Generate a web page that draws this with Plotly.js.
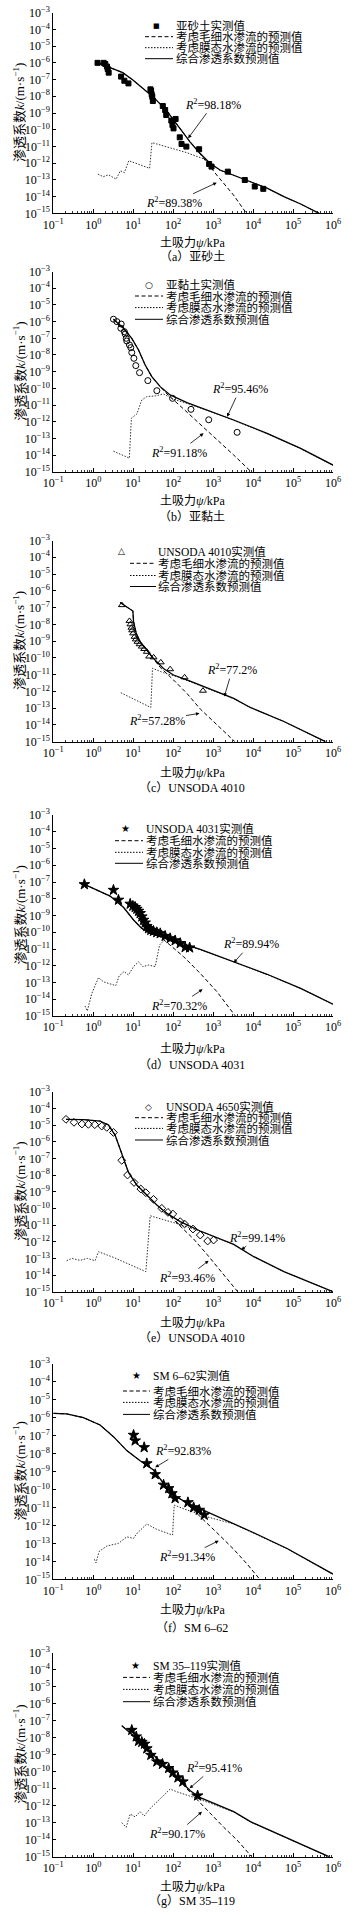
<!DOCTYPE html>
<html><head><meta charset="utf-8">
<script src="https://cdn.plot.ly/plotly-3.0.1.min.js"></script>
<style>html,body{margin:0;padding:0;background:#fff}</style>
</head><body><div id="chart" style="width:358px;height:1915px"></div>
<script>
// ---------- data ----------
// (a) 亚砂土
const aMeasX = [1.28,1.82,2.0,2.2,2.3,2.43,4.97,6.0,7.6,27,28,29,30,31,55,63,67,90,96,102,115,146,162,214,446,795,912,2330,6200,11000,18000];
const aMeasY = [1.0e-6,1.0e-6,8.5e-7,6.0e-7,4.3e-7,2.6e-7,1.5e-7,8.5e-8,5.9e-8,2.6e-8,2.2e-8,1.3e-8,9.5e-9,5.2e-9,2.6e-9,1.5e-9,7.6e-10,3.5e-10,1.9e-10,1.2e-10,4.4e-10,3.5e-11,1.4e-11,9.8e-12,6.8e-12,8.9e-13,6.2e-13,3.1e-13,9.8e-14,4.0e-14,2.9e-14];
const aTotX = [1.41,5.47,9.8,17.5,31,67,146,261,466,834,1490,3220,8500,22400,59000,155000,450000];
const aTotY = [9.3e-7,2.6e-7,9.3e-8,3.0e-8,9.5e-9,1.5e-9,1.2e-10,1.95e-11,3.9e-12,9.8e-13,3.9e-13,1.95e-13,7.8e-14,3.2e-14,1.0e-14,3.6e-15,1.0e-15];
const aCapX = [1.41,5.47,9.8,17.5,31,67,146,261,466,1230,3220,6800];
const aCapY = [9.3e-7,2.6e-7,9.3e-8,3.0e-8,9.5e-9,1.5e-9,1.2e-10,1.95e-11,3.7e-12,1.95e-13,1.26e-14,1.0e-15];
const aFilmX = [1.31,1.78,2.43,3.72,4.78,6.0,7.74,25.7,29.5,67,214,690,1490,3220,8500,22400,59000,155000,450000];
const aFilmY = [2.2e-13,1.55e-13,2.0e-13,1.1e-13,3.5e-13,2.7e-13,1.4e-12,4.9e-13,1.7e-11,9.8e-12,4.3e-12,1.55e-12,3.6e-13,1.9e-13,7.7e-14,3.15e-14,1.0e-14,3.6e-15,1.0e-15];
// (b) 亚黏土
const bMeasX = [3.2,3.9,4.9,5.0,6.0,6.3,6.7,6.9,8.05,8.7,9.2,10.4,11.6,14.4,23.2,39,96.6,279,775,3990];
const bMeasY = [1.4e-6,1.0e-6,4.0e-7,7.2e-7,2.5e-7,1.8e-7,1.0e-7,6.9e-8,4.0e-8,2.75e-8,1.4e-8,6.3e-9,2.3e-9,8.7e-10,2.9e-10,7.2e-11,2.5e-11,5.5e-12,1.3e-12,2.3e-13];
const bTotX = [3.2,5.7,9.2,13.6,19.9,29.2,47.4,84,221,701,3270,22400,155000,1e6];
const bTotY = [1.4e-6,4.0e-7,1.0e-7,2.0e-8,2.5e-9,5.0e-10,1.26e-10,4.0e-11,1.4e-11,5.0e-12,1.26e-12,2.0e-13,2.5e-14,2.5e-15];
const bCapX = [3.2,5.7,9.2,13.6,19.9,29.2,47.4,70,182,476,1250,3270,8900];
const bCapY = [1.4e-6,4.0e-7,1.0e-7,2.0e-8,2.5e-9,5.0e-10,1.26e-10,4.6e-11,5.75e-12,7.2e-13,8.7e-14,1.0e-14,1.0e-15];
const bFilmX = [3.2,4.7,8.0,9.0,12.3,16.4,21.9,35.5,57,102,221,701,3270,22400,155000,1e6];
const bFilmY = [1.7e-14,1.15e-14,6.5e-15,1.6e-12,2.9e-12,2.0e-11,3.2e-11,3.5e-11,4.6e-11,2.2e-11,1.26e-11,4.8e-12,1.2e-12,1.9e-13,2.4e-14,2.4e-15];
// (c) UNSODA 4010
const cMeasX = [5.2,8.05,8.5,9.0,9.4,9.95,10.8,11.6,12.8,14.4,16.4,18.8,21.9,25,32.4,49,84,193,557];
const cMeasY = [1.4e-7,1.6e-8,1.0e-8,6.3e-9,4.4e-9,2.9e-9,1.8e-9,1.26e-9,9.1e-10,6.5e-10,4.7e-10,3.4e-10,2.3e-10,1.2e-10,1.07e-10,5.4e-11,2.1e-11,6.9e-12,1.1e-12];
const cTotX = [4.7,9.8,10.2,11.9,14.9,21.9,32.2,57,102,221,701,3270,8500,59000,650000];
const cTotY = [2.0e-7,6.2e-8,1.45e-8,2.9e-9,9.3e-10,2.95e-10,9.3e-11,2.3e-11,9.5e-12,4.8e-12,1.66e-12,3.8e-13,1.1e-13,1.6e-14,1.0e-15];
const cCapX = [4.7,9.8,10.2,11.9,14.9,21.9,32.2,47,102,221,476,1250,3500];
const cCapY = [2.0e-7,6.2e-8,1.45e-8,2.9e-9,9.3e-10,2.95e-10,9.3e-11,2.75e-11,4.8e-12,7.6e-13,8.9e-14,1.0e-14,1.0e-15];
const cFilmX = [4.9,27.6,30.4,57,124,325,701,3270,8500,59000,650000];
const cFilmY = [8.3e-13,1.1e-13,2.4e-11,1.3e-11,7.6e-12,3.2e-12,1.6e-12,3.7e-13,1.1e-13,1.6e-14,1.0e-15];
// (d) UNSODA 4031
const dMeasX = [0.6,3.2,4.27,8.4,9.8,11.2,12.3,13.6,14.9,16.4,18.1,19.9,21.9,24.2,27.6,32.2,39,47.4,63,84,112,150,200,258];
const dMeasY = [7.2e-8,3.3e-8,8.5e-9,4.9e-9,3.7e-9,3.1e-9,2.45e-9,1.86e-9,1.35e-9,8.5e-10,5.4e-10,3.7e-10,2.3e-10,1.7e-10,1.35e-10,1.17e-10,9.8e-11,8.5e-11,5.9e-11,4.3e-11,3.2e-11,2.2e-11,1.26e-11,1.2e-11];
const dTotX = [0.6,2.64,5.7,10.2,16.4,26.6,47.4,102,476,3270,22400,155000,1e6];
const dTotY = [7.2e-8,1.45e-8,3.1e-9,5.4e-10,1.7e-10,8.5e-11,5.4e-11,3.2e-11,9.5e-12,1.74e-12,3.1e-13,4.5e-14,5.0e-15];
const dCapX = [0.6,2.64,5.7,10.2,16.4,26.6,47.4,70,182,476,1250,3600];
const dCapY = [7.2e-8,1.45e-8,3.1e-9,5.4e-10,1.7e-10,8.5e-11,5.4e-11,2.4e-11,3.5e-12,3.5e-13,2.8e-14,1.0e-15];
const dFilmX = [0.62,0.71,0.92,1.35,1.8,2.9,3.66,4.44,5.9,7.6,10.2,13.6,17.4,24.2,35.5,45.7,63,102,476,3270,22400,155000,1e6];
const dFilmY = [4.0e-15,2.0e-15,2.2e-14,1.95e-13,1.1e-13,8.1e-14,6.5e-14,2.45e-13,4.5e-13,2.8e-13,8.9e-13,1.74e-12,8.9e-13,1.1e-12,8.9e-13,1.74e-11,3.8e-11,2.75e-11,9.0e-12,1.7e-12,3.0e-13,4.4e-14,4.9e-15];
// (e) UNSODA 4650
const eMeasX = [0.208,0.33,0.52,0.755,1.09,1.63,2.18,3.2,5.17,7.2,10.5,15.5,20.7,32.2,52,74,98,150,193,313,476,730,1030];
const eMeasY = [2.2e-5,1.45e-5,1.15e-5,1.1e-5,1.05e-5,8.7e-6,7.2e-6,3.6e-6,7.6e-8,1.0e-8,3.6e-9,1.45e-9,8.7e-10,3.5e-10,1.0e-10,5.75e-11,4.6e-11,1.6e-11,1.15e-11,5.75e-12,2.5e-12,1.1e-12,1.26e-12];
const eTotX = [0.208,0.566,1.48,2.4,3.52,5.17,7.6,12.3,21.9,39,70,150,476,1250,3270,10400,59000,1e6];
const eTotY = [2.2e-5,2.1e-5,1.74e-5,1.0e-5,2.5e-6,2.0e-7,1.45e-8,2.5e-9,6.3e-10,1.6e-10,5.0e-11,1.6e-11,4.4e-12,1.74e-12,6.9e-13,1.26e-13,1.6e-14,1.0e-15];
const eCapX = [0.208,0.566,1.48,2.4,3.52,5.17,7.6,12.3,21.9,39,70,150,325,701,1510,4120];
const eCapY = [2.2e-5,2.1e-5,1.74e-5,1.0e-5,2.5e-6,2.0e-7,1.45e-8,2.5e-9,6.3e-10,1.6e-10,5.0e-11,9.1e-12,1.45e-12,1.74e-13,1.74e-14,1.0e-15];
const eFilmX = [0.216,0.288,0.467,0.713,1.11,1.35,3.2,8.4,20.7,26.6,47.4,102,221,476,1250,3270,10400,59000,1e6];
const eFilmY = [7.2e-14,1.0e-13,7.6e-14,1.0e-13,7.2e-14,2.5e-13,1.15e-13,4.0e-14,1.6e-14,3.6e-11,2.3e-11,1.4e-11,7.9e-12,4.2e-12,1.7e-12,6.8e-13,1.25e-13,1.6e-14,1.0e-15];
// (f) SM 6-62
const fMeasX = [10.2,11.2,18.8,21.9,35.5,57.5,77,93,112,234,325,449,600];
const fMeasY = [1.07e-7,5.2e-8,2.2e-8,2.8e-9,6.9e-10,1.8e-10,1.15e-10,6.0e-11,3.2e-11,1.9e-11,1.0e-11,7.2e-12,3.8e-12];
const fTotX = [0.1,0.216,0.566,1.48,3.2,6.9,14.9,32.2,57.5,102,221,701,3270,10400,71000,1e6];
const fTotY = [1.74e-6,1.6e-6,1.0e-6,3.9e-7,8.7e-8,1.45e-8,4.0e-9,1.2e-9,2.2e-10,4.9e-11,1.8e-11,5.75e-12,1.3e-12,3.9e-13,5.2e-14,1.95e-15];
const fCapX = [0.1,0.216,0.566,1.48,3.2,6.9,14.9,32.2,57.5,102,221,476,1250,3270,7080,14700];
const fCapY = [1.74e-6,1.6e-6,1.0e-6,3.9e-7,8.7e-8,1.45e-8,4.0e-9,1.2e-9,2.2e-10,4.9e-11,1.74e-11,3.0e-12,3.9e-13,4.7e-14,7.1e-15,1.0e-15];
const fFilmX = [1.07,1.17,1.4,2.18,4.27,6.9,10.2,12.8,21.9,39,96.6,106,221,701,3270,10400,71000,1e6];
const fFilmY = [1.3e-14,8.3e-15,3.5e-14,7.1e-14,1.0e-13,2.3e-13,1.9e-13,3.9e-13,1.2e-12,6.0e-13,2.9e-13,1.35e-11,7.2e-12,3.0e-12,1.2e-12,3.7e-13,5.0e-14,1.9e-15];
// (g) SM 35-119
const gMeasX = [9.2,11.9,13.6,16.4,19.2,21.9,27.6,39,54,77,98,132,175,409];
const gMeasY = [2.8e-8,1.15e-8,6.3e-9,5.5e-9,4.3e-9,2.3e-9,9.5e-10,3.9e-10,2.8e-10,1.6e-10,8.7e-11,4.5e-11,2.6e-11,3.9e-12];
const gTotX = [5.18,12.3,26.6,70,150,268,476,1250,3270,8570,59000,790000];
const gTotY = [5.1e-8,9.1e-9,1.5e-9,1.6e-10,2.6e-11,7.6e-12,2.95e-12,1.1e-12,4.5e-13,1.15e-13,1.5e-14,1.0e-15];
const gCapX = [5.18,12.3,26.6,70,150,325,701,1840,3980,8900];
const gCapY = [5.1e-8,9.1e-9,1.5e-9,1.6e-10,2.6e-11,3.7e-12,5.6e-13,5.4e-14,9.5e-15,1.1e-15];
const gFilmX = [5.18,6.65,8.4,11.2,14.9,18.8,26.6,43,63,84,124,221,476,1250,3270,8570,59000,790000];
const gFilmY = [1.0e-13,5.4e-14,3.2e-13,2.2e-13,4.5e-13,2.45e-13,6.9e-13,1.95e-12,4.7e-12,9.5e-12,6.6e-12,4.3e-12,2.3e-12,1.0e-12,4.3e-13,1.1e-13,1.45e-14,1.0e-15];

// texts
const measuredNames = ['亚砂土实测值','亚黏土实测值','UNSODA 4010实测值','UNSODA 4031实测值','UNSODA 4650实测值','SM 6–62实测值','SM 35–119实测值'];
const lineNames = ['考虑毛细水渗流的预测值','考虑膜态水渗流的预测值','综合渗透系数预测值'];
const captions = ['（a）亚砂土','（b）亚黏土','（c）UNSODA 4010','（d）UNSODA 4031','（e）UNSODA 4010','（f）SM 6–62','（g）SM 35–119'];
const r2Upper = ['98.18%','95.46%','77.2%','89.94%','99.14%','92.83%','95.41%'];
const r2Lower = ['89.38%','91.18%','57.28%','70.32%','93.46%','91.34%','90.17%'];
const xTickVals = [0.1,1,10,100,1e3,1e4,1e5,1e6];
const xTickText = ['10<sup>−1</sup>','10<sup>0</sup>','10<sup>1</sup>','10<sup>2</sup>','10<sup>3</sup>','10<sup>4</sup>','10<sup>5</sup>','10<sup>6</sup>'];
const yTickVals = [1e-15,1e-14,1e-13,1e-12,1e-11,1e-10,1e-9,1e-8,1e-7,1e-6,1e-5,1e-4,1e-3];
const yTickText = ['10<sup>−15</sup>','10<sup>−14</sup>','10<sup>−13</sup>','10<sup>−12</sup>','10<sup>−11</sup>','10<sup>−10</sup>','10<sup>−9</sup>','10<sup>−8</sup>','10<sup>−7</sup>','10<sup>−6</sup>','10<sup>−5</sup>','10<sup>−4</sup>','10<sup>−3</sup>'];

// ---------- layout config (pixel positions) ----------
const W = 358, H = 1915, X0 = 53.3, X1 = 333;
const SERIF = '"Liberation Serif", "Times New Roman", serif';
const MIX = '"Liberation Serif", "Noto Sans CJK SC", serif';
const px = v => v / W, py = v => 1 - v / H;

const symbols = [
  {sym:'square', size:5, glyph:'■', gsize:7},
  {sym:'circle-open', size:6, glyph:'○', gsize:9},
  {sym:'triangle-up-open', size:6, glyph:'△', gsize:9},
  {sym:'star', size:8, glyph:'★', gsize:10},
  {sym:'diamond-open', size:6, glyph:'◇', gsize:9},
  {sym:'star', size:8, glyph:'★', gsize:10},
  {sym:'star', size:8, glyph:'★', gsize:10}
];
const series = [
  [aMeasX,aMeasY,aCapX,aCapY,aFilmX,aFilmY,aTotX,aTotY],
  [bMeasX,bMeasY,bCapX,bCapY,bFilmX,bFilmY,bTotX,bTotY],
  [cMeasX,cMeasY,cCapX,cCapY,cFilmX,cFilmY,cTotX,cTotY],
  [dMeasX,dMeasY,dCapX,dCapY,dFilmX,dFilmY,dTotX,dTotY],
  [eMeasX,eMeasY,eCapX,eCapY,eFilmX,eFilmY,eTotX,eTotY],
  [fMeasX,fMeasY,fCapX,fCapY,fFilmX,fFilmY,fTotX,fTotY],
  [gMeasX,gMeasY,gCapX,gCapY,gFilmX,gFilmY,gTotX,gTotY]
];
const geo = [
  {top:12.7, bottom:213.3, xt:243.3, cap:256.7, leg:{mx:156,lx0:145,lx1:173,tx:175,rows:[13,24,35,46]}, r2a:{x:2.375,y:-10.51,ax:25,ay:-34}, r2b:{x:3.09,y:-13.17,ax:-43,ay:20}},
  {top:271.6, bottom:471.7, xt:500.7, cap:516.7, leg:{mx:149,lx0:135,lx1:163,tx:165,rows:[13.4,24.4,36,47.7]}, r2a:{x:3.35,y:-11.7,ax:13,ay:-28}, r2b:{x:2.76,y:-12.7,ax:-25,ay:19}},
  {top:540.5, bottom:741.7, xt:772.7, cap:787.7, leg:{mx:122,lx0:130,lx1:156,tx:157,rows:[10.5,22.8,35,46]}, r2a:{x:3.28,y:-12.31,ax:8,ay:-27}, r2b:{x:2.66,y:-13.31,ax:-43,ay:7}},
  {top:815, bottom:1016, xt:1049.3, cap:1065, leg:{mx:125,lx0:115,lx1:143,tx:145,rows:[13.3,25.7,37.3,48.3]}, r2a:{x:3.515,y:-11.82,ax:17,ay:-19}, r2b:{x:2.737,y:-13.41,ax:-24,ay:16}},
  {top:1091.7, bottom:1291.7, xt:1322.7, cap:1338.3, leg:{mx:148,lx0:135,lx1:163,tx:165,rows:[15,26,36.7,48.3]}, r2a:{x:3.707,y:-12.5,ax:16,ay:-13}, r2b:{x:2.888,y:-13.14,ax:-22,ay:17}},
  {top:1363.7, bottom:1579.3, xt:1610, cap:1627.7, leg:{mx:136,lx0:123,lx1:150,tx:152,rows:[11.3,27.3,38.7,50.7]}, r2a:{x:1.55,y:-8.77,ax:28,ay:-17}, r2b:{x:3.14,y:-12.85,ax:-32,ay:16}},
  {top:1652.7, bottom:1856.7, xt:1886.7, cap:1901, leg:{mx:135,lx0:123,lx1:150,tx:152,rows:[12.3,24.7,36.7,49]}, r2a:{x:2.411,y:-10.98,ax:24,ay:-21}, r2b:{x:2.72,y:-12.35,ax:-25,ay:22}}
];

const minorVals = [];
for (let e = -1; e < 6; e++) for (let k = 2; k <= 9; k++) minorVals.push(k * Math.pow(10, e));

const traces = [];
const layout = {
  width: W, height: H, margin: {l:0, r:0, t:0, b:0},
  paper_bgcolor: '#fff', plot_bgcolor: 'rgba(0,0,0,0)', showlegend: false,
  annotations: [], shapes: [], font: {family: MIX, color: '#000'}
};
const axBase = {showline:true, linecolor:'#000', linewidth:1, mirror:false, ticks:'inside', tickcolor:'#000', tickwidth:1,
  showgrid:false, zeroline:false, fixedrange:true, tickfont:{family:SERIF, size:12, color:'#000'}, type:'log', tickmode:'array'};

geo.forEach((g, i) => {
  const n = i + 1, sfx = n === 1 ? '' : String(n);
  const xa = 'x' + sfx, ya = 'y' + sfx;
  layout['xaxis' + sfx] = Object.assign({}, axBase, {domain:[px(X0), px(X1)], anchor:ya, range:[-1, 6],
    tickvals:xTickVals, ticktext:xTickText, ticklen:4,
    minor:{tickmode:'array', tickvals:minorVals, ticks:'inside', ticklen:2, tickcolor:'#000', tickwidth:0.8, showgrid:false}});
  layout['yaxis' + sfx] = Object.assign({}, axBase, {domain:[py(g.bottom), py(g.top)], anchor:xa, range:[-15, -3],
    tickvals:yTickVals, ticktext:yTickText, ticklen:3});
  const s = series[i], sy = symbols[i];
  traces.push({x:s[4], y:s[5], xaxis:xa, yaxis:ya, mode:'lines', line:{color:'#333', width:1, dash:'1.5px,1.5px'}, hoverinfo:'skip'});
  traces.push({x:s[2], y:s[3], xaxis:xa, yaxis:ya, mode:'lines', line:{color:'#000', width:1, dash:'4px,2.5px'}, hoverinfo:'skip'});
  traces.push({x:s[6], y:s[7], xaxis:xa, yaxis:ya, mode:'lines', line:{color:'#000', width:1.3}, hoverinfo:'skip'});
  traces.push({x:s[0], y:s[1], xaxis:xa, yaxis:ya, mode:'markers',
    marker:{symbol:sy.sym, size:sy.size, color:'#000', line:{color:'#000', width:1}}, hoverinfo:'skip'});

  // legend (manual, compact rows)
  const L = g.leg;
  const rowY = L.rows.map(r => g.top + r);
  layout.annotations.push({xref:'paper', yref:'paper', x:px(L.mx), y:py(rowY[0]), text:sy.glyph, showarrow:false,
    xanchor:'center', yanchor:'middle', font:{family:'"DejaVu Sans"', size:sy.gsize, color:'#000'}});
  const names = [measuredNames[i]].concat(lineNames);
  names.forEach((t, k) => {
    layout.annotations.push({xref:'paper', yref:'paper', x:px(L.tx), y:py(rowY[k]), text:t, showarrow:false,
      xanchor:'left', yanchor:'middle', borderpad:0, font:{family:MIX, size:11.5, color:'#000'}});
  });
  const dashes = ['4px,2.5px', '1.5px,1.5px', 'solid'];
  dashes.forEach((d, k) => {
    layout.shapes.push({type:'line', xref:'paper', yref:'paper', x0:px(L.lx0), x1:px(L.lx1), y0:py(rowY[k+1]), y1:py(rowY[k+1]),
      line:{color:'#000', width:1, dash:d}});
  });

  // R² annotations
  [[g.r2a, r2Upper[i]], [g.r2b, r2Lower[i]]].forEach(([p, v]) => {
    layout.annotations.push({xref:xa, yref:ya, x:p.x, y:p.y, ax:p.ax, ay:p.ay, text:'<i>R</i><sup>2</sup>=' + v,
      showarrow:true, arrowhead:2, arrowsize:0.9, arrowwidth:0.8, arrowcolor:'#000', standoff:0,
      font:{family:SERIF, size:12, color:'#000'}});
  });

  // axis titles & caption
  layout.annotations.push({xref:'paper', yref:'paper', x:px(19), y:py((g.top + g.bottom) / 2), textangle:-90,
    text:'渗透系数<i>k</i>/(m·s<sup>−1</sup>)', showarrow:false, xanchor:'center', yanchor:'middle',
    font:{family:MIX, size:13, color:'#000'}});
  layout.annotations.push({xref:'paper', yref:'paper', x:px(192), y:py(g.xt), text:'土吸力<i>ψ</i>/kPa', showarrow:false,
    xanchor:'center', yanchor:'middle', font:{family:MIX, size:12, color:'#000'}});
  layout.annotations.push({xref:'paper', yref:'paper', x:px(192), y:py(g.cap), text:captions[i], showarrow:false,
    xanchor:'center', yanchor:'middle', font:{family:MIX, size:12, color:'#000'}});
});

Plotly.newPlot('chart', traces, layout, {staticPlot:true, displayModeBar:false});
</script>
</body></html>
